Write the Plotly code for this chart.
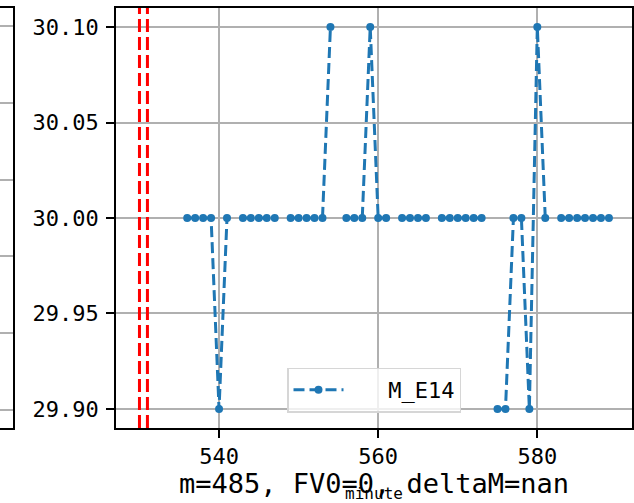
import plotly.graph_objects as go

# ---- data ----
minutes = [536, 537, 538, 539, 540, 541, 542, 543, 544, 545, 546, 547, 548,
           549, 550, 551, 552, 553, 554, 555, 556, 557, 558, 559, 560, 561,
           562, 563, 564, 565, 566, 567, 568, 569, 570, 571, 572, 573, 574,
           575, 576, 577, 578, 579, 580, 581, 582, 583, 584, 585, 586, 587,
           588, 589]
m_e14 = [30.00, 30.00, 30.00, 30.00, 29.90, 30.00, None, 30.00, 30.00, 30.00,
         30.00, 30.00, None, 30.00, 30.00, 30.00, 30.00, 30.00, 30.10, None,
         30.00, 30.00, 30.00, 30.10, 30.00, 30.00, None, 30.00, 30.00, 30.00,
         30.00, None, 30.00, 30.00, 30.00, 30.00, 30.00, 30.00, None, 29.90,
         29.90, 30.00, 30.00, 29.90, 30.10, 30.00, None, 30.00, 30.00, 30.00,
         30.00, 30.00, 30.00, 30.00]
series_name = "M_E14"
red_marks = [530, 531]
x_ticks = [540, 560, 580]
y_ticks = [29.90, 29.95, 30.00, 30.05, 30.10]
y_tick_labels = ["29.90", "29.95", "30.00", "30.05", "30.10"]
left_panel_ticks = [0, 1, 2, 3, 4, 5]
x_title = "minute"
note = "m=485, FV0=0, deltaM=nan"

W, H = 634, 503
R, T, B = 2, 8, 75
PW = W - R            # paper width (left margin 0)
PH = H - T - B
AX_L = 116            # left edge of main axes (px)
MONO = "DejaVu Sans Mono"
GRID = "#b0b0b0"

fig = go.Figure()

fig.add_trace(go.Scatter(
    x=minutes, y=m_e14, name="\u00a0\u00a0\u00a0" + series_name, mode="lines+markers",
    connectgaps=False,
    line=dict(color="#1f77b4", width=3, dash="11px,5px"),
    marker=dict(color="#1f77b4", size=8, symbol="circle"),
    xaxis="x", yaxis="y",
))

for xv in red_marks:
    fig.add_shape(type="line", xref="x", yref="y domain", x0=xv, x1=xv, y0=0, y1=1,
                  line=dict(color="red", width=3, dash="13px,5px"), layer="above")

# invisible trace to activate the neighbouring panel sliver
fig.add_trace(go.Scatter(x=[0], y=[0], mode="markers", marker=dict(opacity=0),
                         showlegend=False, hoverinfo="skip", xaxis="x2", yaxis="y2"))

axis_common = dict(showline=True, linecolor="black", linewidth=1.5, mirror=True,
                   zeroline=False, automargin=False)

fig.update_layout(
    width=W, height=H,
    margin=dict(l=0, r=R, t=T, b=B, pad=0),
    paper_bgcolor="white", plot_bgcolor="white",
    font=dict(family=MONO, size=22, color="black"),
    xaxis=dict(
        domain=[AX_L / PW, 1], range=[527.05, 591.9],
        tickvals=x_ticks, ticktext=[str(v) for v in x_ticks],
        ticks="outside", ticklen=8, tickwidth=1.5, tickcolor="black",
        showgrid=True, gridcolor=GRID, gridwidth=1.5,
        tickfont=dict(family=MONO, size=22),
        title=dict(text=x_title, font=dict(family=MONO, size=16), standoff=31),
        **axis_common,
    ),
    yaxis=dict(
        domain=[0, 1], range=[29.89, 30.11],
        tickvals=y_ticks, ticktext=y_tick_labels,
        ticks="outside", ticklen=8, tickwidth=1.5, tickcolor="black",
        showgrid=True, gridcolor=GRID, gridwidth=1.5,
        tickfont=dict(family=MONO, size=22),
        ticklabelstandoff=3,
        **axis_common,
    ),
    xaxis2=dict(domain=[0, 13 / PW],
                anchor="y2", range=[0, 1], showgrid=False, showticklabels=False,
                ticks="", **axis_common),
    yaxis2=dict(anchor="x2", side="right", range=[-0.24, 5.24],
                tickvals=left_panel_ticks, showticklabels=False, ticks="",
                showgrid=True, gridcolor=GRID, gridwidth=1.5,
                showline=True, linecolor="black", linewidth=1.5, mirror=False,
                zeroline=False, automargin=False),
    legend=dict(
        x=287 / PW, y=(428.5 - 413) / PH,
        xanchor="left", yanchor="bottom",
        bgcolor="rgba(255,255,255,0.8)", bordercolor="#d6d6d6", borderwidth=1.5,
        font=dict(family=MONO, size=22),
        itemwidth=50,
    ),
    showlegend=True,
)

fig.add_annotation(text=note, xref="paper", yref="paper",
                   x=(AX_L + (PW - AX_L) / 2) / PW, y=0,
                   yshift=-(484 - 428.5), yanchor="middle", xanchor="center",
                   showarrow=False, font=dict(family=MONO, size=27, color="black"))

fig.write_html("out.html",
               config={"displayModeBar": False},
               post_script="document.body.style.margin='0';"
                           "document.body.style.overflow='hidden';")
